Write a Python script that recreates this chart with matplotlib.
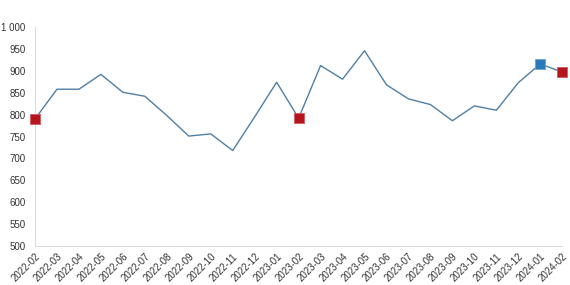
import numpy as np
import matplotlib.pyplot as plt
from matplotlib.ticker import FuncFormatter

plt.rcParams['font.family'] = ['Liberation Sans', 'DejaVu Sans']

months = ['2022-02', '2022-03', '2022-04', '2022-05', '2022-06', '2022-07', '2022-08',
          '2022-09', '2022-10', '2022-11', '2022-12', '2023-01', '2023-02', '2023-03',
          '2023-04', '2023-05', '2023-06', '2023-07', '2023-08', '2023-09', '2023-10',
          '2023-11', '2023-12', '2024-01', '2024-02']
values = [790, 858, 858, 892, 851, 842, 798, 751, 756, 718, 795, 874, 792, 912,
          881, 946, 868, 836, 823, 786, 820, 810, 873, 916, 897]
red_idx = [0, 12, 24]
blue_idx = [23]

x = np.arange(len(months))
vals = np.array(values)

fig = plt.figure(figsize=(5.7, 2.85), dpi=100)
ax = fig.add_axes([0.0614, 0.137, 0.925, 0.768])

ax.plot(x, vals, color='#4f7fa6', lw=1.0, zorder=2)
ax.scatter(x[red_idx], vals[red_idx], marker='s', s=48, color='#b5161e',
           edgecolors='#d45a5e', linewidths=0.6, zorder=3, clip_on=False)
ax.scatter(x[blue_idx], vals[blue_idx], marker='s', s=48, color='#2a79b8',
           edgecolors='#6aa4d2', linewidths=0.6, zorder=3, clip_on=False)

ax.set_xlim(0, len(months) - 1)
ax.set_ylim(500, 1000)
ax.set_yticks(np.arange(500, 1001, 50))
ax.yaxis.set_major_formatter(FuncFormatter(lambda v, p: f'{int(v):,}'.replace(',', ' ')))
ax.set_xticks(x)
ax.set_xticklabels(months, rotation=45, ha='right', rotation_mode='anchor')

ax.tick_params(axis='both', length=0, labelsize=7, labelcolor='#333333')
ax.tick_params(axis='y', pad=7)
ax.tick_params(axis='x', pad=4)
for side in ['top', 'right']:
    ax.spines[side].set_visible(False)
for side in ['left', 'bottom']:
    ax.spines[side].set_color('#dddddd')
    ax.spines[side].set_linewidth(0.8)

fig.savefig('out.png', dpi=100)
